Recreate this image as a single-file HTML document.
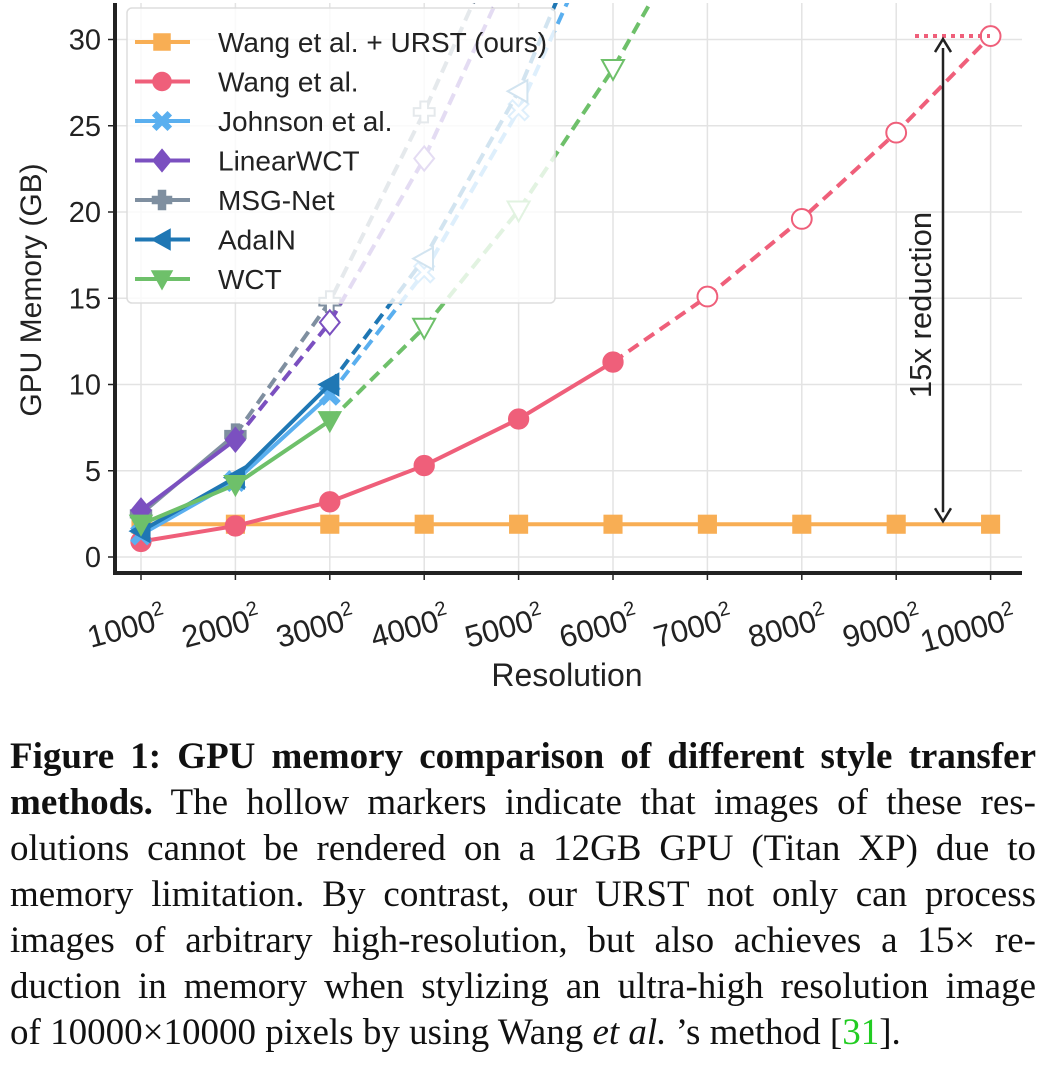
<!DOCTYPE html>
<html><head><meta charset="utf-8"><style>
html,body{margin:0;padding:0;background:#fff;width:1042px;height:1080px;overflow:hidden}
#cap{position:absolute;left:10px;top:734px;width:1026px;font-family:"Liberation Serif",serif;font-size:37px;line-height:46px;color:#111}
#cap div{text-align:justify;text-align-last:justify;white-space:nowrap}
</style></head><body>
<svg id="chart" width="1042" height="720" style="position:absolute;left:0;top:0" font-family="Liberation Sans, sans-serif"></svg>
<div id="cap">
<div><b>Figure 1: GPU memory comparison of different style transfer</b></div>
<div><b>methods.</b> The hollow markers indicate that images of these res-</div>
<div>olutions cannot be rendered on a 12GB GPU (Titan XP) due to</div>
<div>memory limitation. By contrast, our URST not only can process</div>
<div>images of arbitrary high-resolution, but also achieves a 15× re-</div>
<div>duction in memory when stylizing an ultra-high resolution image</div>
<div style="text-align-last:left">of 10000×10000 pixels by using Wang <i>et al.</i> ’s method [<span style="color:#2c2">31</span>].</div>
</div>
<script>
const categories=["1000","2000","3000","4000","5000","6000","7000","8000","9000","10000"];
const yTicks=[0,5,10,15,20,25,30];
const urst=[1.9,1.9,1.9,1.9,1.9,1.9,1.9,1.9,1.9,1.9];
const wang=[0.9,1.8,3.2,5.3,8.0,11.3,15.1,19.6,24.6,30.2];
const johnson=[1.3,4.4,9.4,16.5,25.9,38];
const linearwct=[2.7,6.8,13.6,23.1,35];
const msgnet=[2.5,7.1,14.8,25.8,38];
const adain=[1.5,4.6,10.0,17.3,27.0,40];
const wct=[1.9,4.2,7.9,13.3,20.1,28.3,38];
const limitGB=12;
const NS="http://www.w3.org/2000/svg";
const svg=document.getElementById('chart');
const X0=141,DX=94.4,Y0=557,DY=17.25;
const xs=i=>X0+i*DX, ys=v=>Y0-v*DY;
function el(t,a,p){const e=document.createElementNS(NS,t);for(const k in a)e.setAttribute(k,a[k]);(p||svg).appendChild(e);return e;}
const defs=el('defs',{});const cp=el('clipPath',{id:'cp'},defs);el('rect',{x:115,y:3,width:910,height:570},cp);
const grid=el('g',{});


categories.forEach((c,i)=>el('line',{x1:xs(i),x2:xs(i),y1:3,y2:573,stroke:'#e3e3e3','stroke-width':1.5},grid));
yTicks.forEach(v=>el('line',{x1:115,x2:1022,y1:ys(v),y2:ys(v),stroke:'#e3e3e3','stroke-width':1.5},grid));
categories.forEach((c,i)=>{
 el('line',{x1:xs(i),x2:xs(i),y1:573,y2:580,stroke:'#222','stroke-width':1.5});
 const t=el('text',{x:xs(i)+22,y:628,'font-size':31,'text-anchor':'end',fill:'#222',transform:`rotate(-15 ${xs(i)+22} 608)`});
 
 
 t.innerHTML=c+'<tspan dy="-14" font-size="20">2</tspan>';
});
yTicks.forEach(v=>{
 el('line',{x1:108,x2:115,y1:ys(v),y2:ys(v),stroke:'#222','stroke-width':1.5});
 const t=el('text',{x:101,y:ys(v)+10,'font-size':29,'text-anchor':'end',fill:'#222'});
 
 
 t.textContent=v;
});
let t=el('text',{x:567,y:686,'font-size':32,'text-anchor':'middle',fill:'#222'});t.textContent='Resolution';


t=el('text',{x:41,y:290,'font-size':30,'text-anchor':'middle',fill:'#222',transform:'rotate(-90 41 290)'});t.textContent='GPU Memory (GB)';


function marker(g,type,x,y,col,hollow,s){
 const f=hollow?'#fff':col, a={fill:f,stroke:col,'stroke-width':hollow?2:1.5};
 s=s||11;let e;
 if(type==='s')e=el('rect',Object.assign({x:x-s*.8,y:y-s*.8,width:s*1.6,height:s*1.6},a),g);
 else if(type==='o')e=el('circle',Object.assign({cx:x,cy:y,r:s*.9},a),g);
 else if(type==='X'){const k=s*.9,w=s*.35;e=el('path',Object.assign({d:`M${x-k} ${y-k+w}L${x-w} ${y}L${x-k} ${y+k-w}L${x-k+w} ${y+k}L${x} ${y+w}L${x+k-w} ${y+k}L${x+k} ${y+k-w}L${x+w} ${y}L${x+k} ${y-k+w}L${x+k-w} ${y-k}L${x} ${y-w}L${x-k+w} ${y-k}Z`},a),g);}
 else if(type==='D')e=el('path',Object.assign({d:`M${x} ${y-s*1.1}L${x+s*.9} ${y}L${x} ${y+s*1.1}L${x-s*.9} ${y}Z`},a),g);
 else if(type==='P'){const k=s*.95,w=s*.35;e=el('path',Object.assign({d:`M${x-w} ${y-k}H${x+w}V${y-w}H${x+k}V${y+w}H${x+w}V${y+k}H${x-w}V${y+w}H${x-k}V${y-w}H${x-w}Z`},a),g);}
 else if(type==='<')e=el('path',Object.assign({d:`M${x-s} ${y}L${x+s*.8} ${y-s}L${x+s*.8} ${y+s}Z`},a),g);
 else if(type==='v')e=el('path',Object.assign({d:`M${x-s} ${y-s*.8}L${x+s} ${y-s*.8}L${x} ${y+s}Z`},a),g);
 return e;
}
const series=[
 ['wang-urst',urst,'#f8ae54','s'],
 ['wang',wang,'#ef5f7a','o'],
 ['msgnet',msgnet,'#7f8fa0','P'],
 ['linearwct',linearwct,'#7b50c0','D'],
 ['johnson',johnson,'#5aafef','X'],
 ['adain',adain,'#1f77b4','<'],
 ['wct',wct,'#6ec06a','v'],
];
const plot=el('g',{'clip-path':'url(#cp)'});
series.forEach(([name,data,col,m])=>{
 const g=el('g',{},plot);
 
 
 let k=data.findIndex(v=>v>limitGB); if(k<0)k=data.length;
 const solid=data.slice(0,k).map((v,i)=>xs(i)+','+ys(v)).join(' ');
 el('polyline',{points:solid,fill:'none',stroke:col,'stroke-width':4},g);
 if(k<data.length){
  const dash=data.slice(k-1).map((v,i)=>xs(i+k-1)+','+ys(v)).join(' ');
  el('polyline',{points:dash,fill:'none',stroke:col,'stroke-width':4,'stroke-dasharray':'12 7'},g);
 }
 data.forEach((v,i)=>{const e=marker(g,m,xs(i),ys(v),col,i>=k);
  
  });
});
el('line',{x1:115,x2:115,y1:3,y2:575,stroke:'#222','stroke-width':4});
el('line',{x1:113,x2:1022,y1:573,y2:573,stroke:'#222','stroke-width':4});
const ann=el('g',{});


el('line',{x1:915,x2:990,y1:ys(wang[9]),y2:ys(wang[9]),stroke:'#ef5f7a','stroke-width':4,'stroke-dasharray':'4 5'},ann);
el('line',{x1:943,x2:943,y1:ys(wang[9])+12,y2:ys(urst[9])-12,stroke:'#222','stroke-width':2.5},ann);
el('path',{d:`M935 ${ys(wang[9])+16}L943 ${ys(wang[9])+3}L951 ${ys(wang[9])+16}`,fill:'none',stroke:'#222','stroke-width':2.5},ann);
el('path',{d:`M935 ${ys(urst[9])-16}L943 ${ys(urst[9])-3}L951 ${ys(urst[9])-16}`,fill:'none',stroke:'#222','stroke-width':2.5},ann);
t=el('text',{x:931,y:305,'font-size':31,'text-anchor':'middle',fill:'#222',transform:'rotate(-90 931 305)'},ann);t.textContent='15x reduction';
const lg=el('g',{});


el('rect',{x:127,y:8,width:428,height:295,rx:5,fill:'rgba(255,255,255,0.8)',stroke:'#ddd','stroke-width':1.5},lg);
const legendLabels=['Wang et al. + URST (ours)','Wang et al.','Johnson et al.','LinearWCT','MSG-Net','AdaIN','WCT'];
const legendOrder=[0,1,4,3,2,5,6];
legendOrder.forEach((si,j)=>{
 const [n,d,col,m]=series[si];const y=42+j*39.5;
 const eg=el('g',{},lg);
 
 
 el('line',{x1:135,x2:190,y1:y,y2:y,stroke:col,'stroke-width':4},eg);
 marker(eg,m,162,y,col,false,10);
 const tx=el('text',{x:218,y:y+10,'font-size':28,fill:'#222'},eg);tx.textContent=legendLabels[j];
});
</script>
</body></html>
